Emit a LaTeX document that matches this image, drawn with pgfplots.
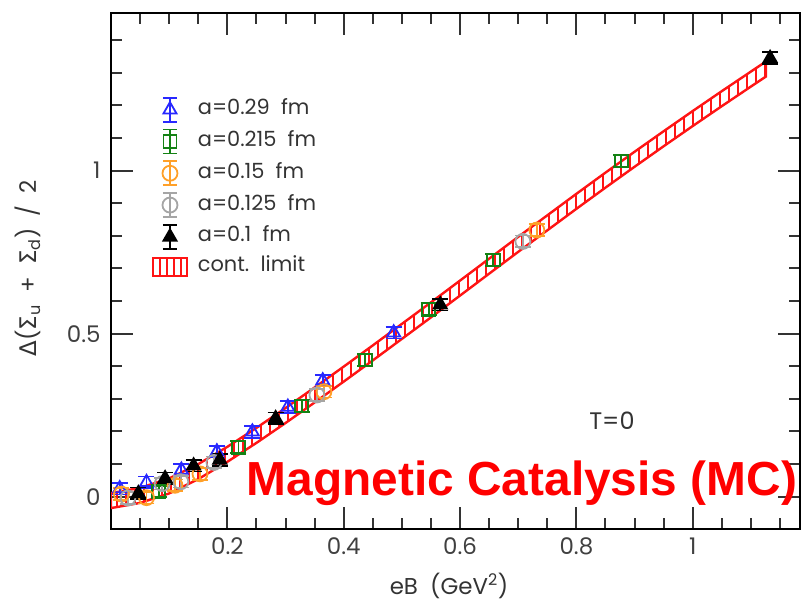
\documentclass[border=0pt]{standalone}
\usepackage{fontspec}
\setmainfont{Poppins}
\newfontfamily\greekfont{DejaVu Sans}
\newfontfamily\arialfont{Liberation Sans}
\usepackage{pgfplots}
\pgfplotsset{compat=1.18}
\usetikzlibrary{patterns.meta}

\definecolor{cblue}{RGB}{40,40,255}
\definecolor{cgreen}{RGB}{20,130,20}
\definecolor{corange}{RGB}{255,160,40}
\definecolor{cgray}{RGB}{165,165,165}
\definecolor{cred}{RGB}{255,20,20}

\pgfplotsset{
  errmark/.style={
    error bars/y dir=both, error bars/y fixed=0.018,
    error bars/error bar style={line width=1.8bp},
    error bars/error mark options={rotate=90, mark size=8bp, line width=1.8bp}},
  eblegend/.style={legend image code/.code={
    \draw[line width=1.8bp,mark=none] (0bp,-12bp) -- (0bp,12bp)
      (-7bp,-12bp) -- (7bp,-12bp) (-7bp,12bp) -- (7bp,12bp);
    \draw[only marks] plot coordinates {(0bp,0bp)};}},
}

\begin{document}
\begin{tikzpicture}
\useasboundingbox (0,0) rectangle (804bp,601bp);
\begin{axis}[
  at={(111bp,71.7bp)}, anchor=south west,
  scale only axis, width=689bp, height=516.3bp,
  xmin=0, xmax=1.1844, ymin=-0.1, ymax=1.4837,
  xtick={0.2,0.4,0.6,0.8,1}, xticklabels={0.2,0.4,0.6,0.8,1},
  minor xtick={0.05,0.1,0.15,0.25,0.3,0.35,0.45,0.5,0.55,0.65,0.7,0.75,0.85,0.9,0.95,1.05,1.1,1.15},
  ytick={0,0.5,1}, yticklabels={0,0.5,1},
  minor ytick={0.1,0.2,0.3,0.4,0.6,0.7,0.8,0.9,1.1,1.2,1.3,1.4},
  major tick length=22bp, minor tick length=11bp,
  axis line style={line width=2.2bp},
  every tick/.style={line width=2bp, black!80},
  tick label style={font=\fontsize{23}{27}\selectfont, text=black!75},
  xticklabel style={yshift=-5bp},
  yticklabel style={xshift=-7bp},
  xlabel={eB\ \ (GeV\textsuperscript{2})},
  ylabel={{\greekfont Δ}({\greekfont Σ}\textsubscript{u}\ \ +\ \ {\greekfont Σ}\textsubscript{d})\ \ /\ \ 2},
  every axis x label/.style={at={(axis description cs:0.4906,-0.1098)}, anchor=center,
    font=\fontsize{23}{27}\selectfont, text=black!80},
  every axis y label/.style={at={(axis description cs:-0.1205,0.506)}, anchor=center, rotate=90,
    font=\fontsize{23}{27}\selectfont, text=black!80},
  legend style={draw=none, fill=none, at={(axis description cs:0.055,0.842)}, anchor=north west,
    font=\fontsize{21}{25}\selectfont, text=black!80, row sep=6bp,
    nodes={inner sep=1bp, text height=15bp, text depth=5bp},
    /tikz/every odd column/.append style={column sep=9bp}},
  legend cell align=left,
  clip=true,
]
% continuum limit band (upper edge forward, lower edge backward)
\addplot[draw=cred, line width=2.4bp, pattern={Lines[angle=90,distance=9bp,line width=2.2bp]}, pattern color=cred, forget plot]
coordinates {
(0,0.011) (0.05,0.027) (0.1,0.056) (0.15,0.100) (0.2,0.153) (0.25,0.211) (0.3,0.272) (0.35,0.335)
(0.4,0.399) (0.45,0.464) (0.5,0.530) (0.55,0.596) (0.6,0.663) (0.65,0.730) (0.7,0.797) (0.75,0.863)
(0.8,0.929) (0.85,0.994) (0.9,1.058) (0.95,1.121) (1.0,1.183) (1.05,1.244) (1.1,1.304) (1.126,1.335)
(1.126,1.289) (1.1,1.258) (1.05,1.198) (1.0,1.137) (0.95,1.075) (0.9,1.012) (0.85,0.948) (0.8,0.883)
(0.75,0.817) (0.7,0.751) (0.65,0.684) (0.6,0.617) (0.55,0.550) (0.5,0.484) (0.45,0.418) (0.4,0.353)
(0.35,0.289) (0.3,0.226) (0.25,0.165) (0.2,0.107) (0.15,0.054) (0.1,0.010) (0.05,-0.019) (0,-0.035)
} -- cycle;

% a = 0.29 fm
\addplot[only marks, cblue, mark=triangle, mark size=7.5bp, line width=1.8bp, eblegend, errmark]
coordinates {
(0.015,0.025) (0.061,0.044) (0.121,0.082) (0.182,0.138) (0.243,0.199) (0.304,0.275) (0.364,0.356) (0.486,0.503)
};
\addlegendentry{a=0.29\ \ fm}
% a = 0.215 fm
\addplot[only marks, cgreen, mark=square, mark size=6.5bp, line width=1.8bp, eblegend, errmark]
coordinates {
(0.082,0.016) (0.219,0.152) (0.328,0.278) (0.437,0.419) (0.546,0.575) (0.657,0.726) (0.877,1.030)
};
\addlegendentry{a=0.215\ \ fm}
% a = 0.15 fm
\addplot[only marks, corange, mark=o, mark size=7.5bp, line width=1.8bp, eblegend, errmark]
coordinates {
(0.018,0.008) (0.061,-0.003) (0.11,0.035) (0.153,0.070) (0.366,0.322) (0.732,0.818)
};
\addlegendentry{a=0.15\ \ fm}
% a = 0.125 fm
\addplot[only marks, cgray, mark=o, mark size=7.5bp, line width=1.8bp, eblegend, errmark]
coordinates {
(0.029,-0.004) (0.088,0.040) (0.120,0.046) (0.177,0.105) (0.354,0.312) (0.708,0.783)
};
\addlegendentry{a=0.125\ \ fm}
% a = 0.1 fm
\addplot[only marks, black, mark=triangle*, mark size=7.5bp, line width=1.8bp, eblegend, errmark]
coordinates {
(0.047,0.010) (0.093,0.056) (0.142,0.095) (0.187,0.113) (0.283,0.240) (0.566,0.589) (1.133,1.345)
};
\addlegendentry{a=0.1\ \ fm}
% legend entry for the band
\addlegendimage{legend image code/.code={
  \draw[cred, line width=1.8bp] (-17bp,-9bp) rectangle (17bp,9bp);
  \foreach \xx in {-10,-3,4,11} {\draw[cred, line width=1.8bp] (\xx bp,-9bp) -- (\xx bp,9bp);}
}}
\addlegendentry{cont.\ \ limit}

\node[font=\fontsize{24}{28}\selectfont, text=black!80] at (axis description cs:0.727,0.2098) {T=0};
\node[font=\arialfont\bfseries\fontsize{48}{52}\selectfont, text=red, anchor=base] at (axis description cs:0.5965,0.0664) {Magnetic Catalysis (MC)};
\end{axis}
\end{tikzpicture}
\end{document}
